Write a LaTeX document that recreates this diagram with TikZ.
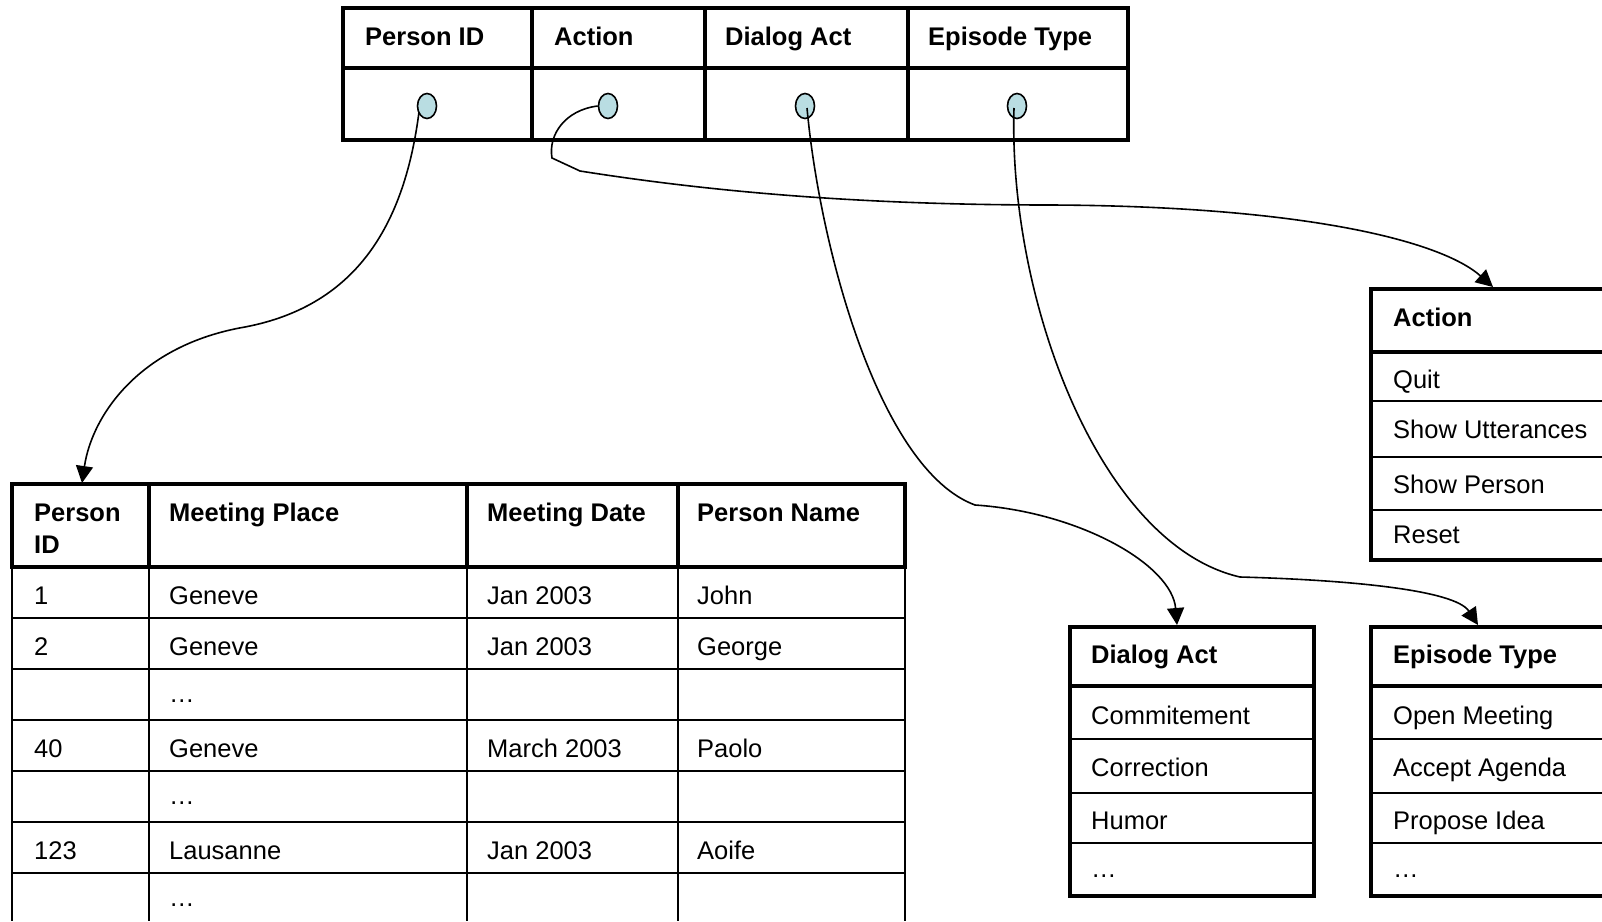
\documentclass[tikz,border=0pt]{standalone}
\usepackage{fontspec}
\setmainfont{Liberation Sans}
\usetikzlibrary{arrows.meta,calc,shapes.geometric}
\definecolor{dotfill}{HTML}{B9DDE2}
\begin{document}
\begin{tikzpicture}[x=1pt,y=-1pt,
  bordr/.style={line width=4pt},
  thinl/.style={line width=1.8pt},
  txt/.style={anchor=base west,inner sep=0pt,font=\fontsize{25.5}{30}\selectfont},
  htxt/.style={anchor=base west,inner sep=0pt,font=\fontsize{25.5}{30}\selectfont\bfseries},
  dot/.style={ellipse,draw,line width=1.6pt,fill=dotfill,minimum width=19pt,minimum height=25pt,inner sep=0pt},
  conn/.style={line width=1.6pt,-{Triangle[width=17pt,length=17pt]}}]
\useasboundingbox[fill=white] (0,0) rectangle (1602,921);

% ---------- top table ----------
\draw[bordr] (343,8) rectangle (1128,140);
\draw[bordr] (343,68) -- (1128,68);
\foreach \x in {532,705,908} \draw[bordr] (\x,8) -- (\x,140);
\node[htxt] (tpid) at (365,45) {Person ID};
\node[htxt] (tact) at (554,45) {Action};
\node[htxt] (tdia) at (725,45) {Dialog Act};
\node[htxt] (tepi) at (928,45) {Episode Type};

% ---------- person table ----------
\foreach \x in {12,149,467,678,905} \draw[thinl] (\x,567) -- (\x,921);
\foreach \y in {618,669,720,771,822,873} \draw[thinl] (12,\y) -- (905,\y);
\draw[bordr] (12,484) rectangle (905,567);
\foreach \x in {149,467,678} \draw[bordr] (\x,484) -- (\x,567);
\node[htxt] (hp1) at (34,521) {Person};
\node[htxt] (hp2) at (34,553) {ID};
\node[htxt] (hmp) at (169,521) {Meeting Place};
\node[htxt] (hmd) at (487,521) {Meeting Date};
\node[htxt] (hpn) at (697,521) {Person Name};
\node[txt] (r1a) at (34,604) {1};
\node[txt] (r1b) at (169,604) {Geneve};
\node[txt] (r1c) at (487,604) {Jan 2003};
\node[txt] (r1d) at (697,604) {John};
\node[txt] (r2a) at (34,655) {2};
\node[txt] (r2b) at (169,655) {Geneve};
\node[txt] (r2c) at (487,655) {Jan 2003};
\node[txt] (r2d) at (697,655) {George};
\node[txt] (r3b) at (169,702) {…};
\node[txt] (r4a) at (34,757) {40};
\node[txt] (r4b) at (169,757) {Geneve};
\node[txt] (r4c) at (487,757) {March 2003};
\node[txt] (r4d) at (697,757) {Paolo};
\node[txt] (r5b) at (169,804) {…};
\node[txt] (r6a) at (34,859) {123};
\node[txt] (r6b) at (169,859) {Lausanne};
\node[txt] (r6c) at (487,859) {Jan 2003};
\node[txt] (r6d) at (697,859) {Aoife};
\node[txt] (r7b) at (169,906) {…};

% ---------- action table ----------
\foreach \y in {401,457,510} \draw[thinl] (1371,\y) -- (1602,\y);
\draw[bordr] (1602,289) -- (1371,289) -- (1371,560) -- (1602,560);
\draw[bordr] (1371,352) -- (1602,352);
\node[htxt] (ah) at (1393,326) {Action};
\node[txt] (a2) at (1393,388) {Quit};
\node[txt] (a3) at (1393,438) {Show Utterances};
\node[txt] (a4) at (1393,493) {Show Person};
\node[txt] (a5) at (1393,543) {Reset};

% ---------- dialog act table ----------
\foreach \y in {739,793,843} \draw[thinl] (1070,\y) -- (1314,\y);
\draw[bordr] (1070,627) rectangle (1314,896);
\draw[bordr] (1070,686) -- (1314,686);
\node[htxt] (dh) at (1091,663) {Dialog Act};
\node[txt] (d2) at (1091,724) {Commitement};
\node[txt] (d3) at (1091,776) {Correction};
\node[txt] (d4) at (1091,829) {Humor};
\node[txt] (d5) at (1091,877) {…};

% ---------- episode type table ----------
\foreach \y in {739,793,843} \draw[thinl] (1371,\y) -- (1602,\y);
\draw[bordr] (1602,627) -- (1371,627) -- (1371,896) -- (1602,896);
\draw[bordr] (1371,686) -- (1602,686);
\node[htxt] (eh) at (1393,663) {Episode Type};
\node[txt] (e2) at (1393,724) {Open Meeting};
\node[txt] (e3) at (1393,776) {Accept Agenda};
\node[txt] (e4) at (1393,829) {Propose Idea};
\node[txt] (e5) at (1393,877) {…};

% ---------- key dots ----------
\node[dot] (p1) at (427,106) {};
\node[dot] (a1) at (608,106) {};
\node[dot] (d1) at (805,106) {};
\node[dot] (e1) at (1017,106) {};

% ---------- arrow ends ----------
\coordinate (tipP) at (82,483);
\coordinate (tipA) at (1493,287);
\coordinate (tipD) at (1177,625);
\coordinate (tipE) at (1478,625);

% ---------- connectors ----------
\draw[conn] ($(p1.center)+(-8,6)$) .. controls (405,220) and (360,305) .. (245,327)
   .. controls (140,345) and (92,415) .. (tipP);
\draw[conn] (a1.west) .. controls (565,110) and (548,135) .. (552,158) -- (580,171)
   .. controls (700,190) and (850,205) .. (1050,205)
   .. controls (1300,206) and (1440,240) .. (tipA);
\draw[conn] ($(d1.center)+(2,2)$) .. controls (820,250) and (880,470) .. (975,505)
   .. controls (1080,512) and (1172,565) .. (tipD);
\draw[conn] ($(e1.center)+(-3,2)$) .. controls (1008,300) and (1100,545) .. (1240,577)
   .. controls (1350,580) and (1455,590) .. (tipE);
\end{tikzpicture}
\end{document}
